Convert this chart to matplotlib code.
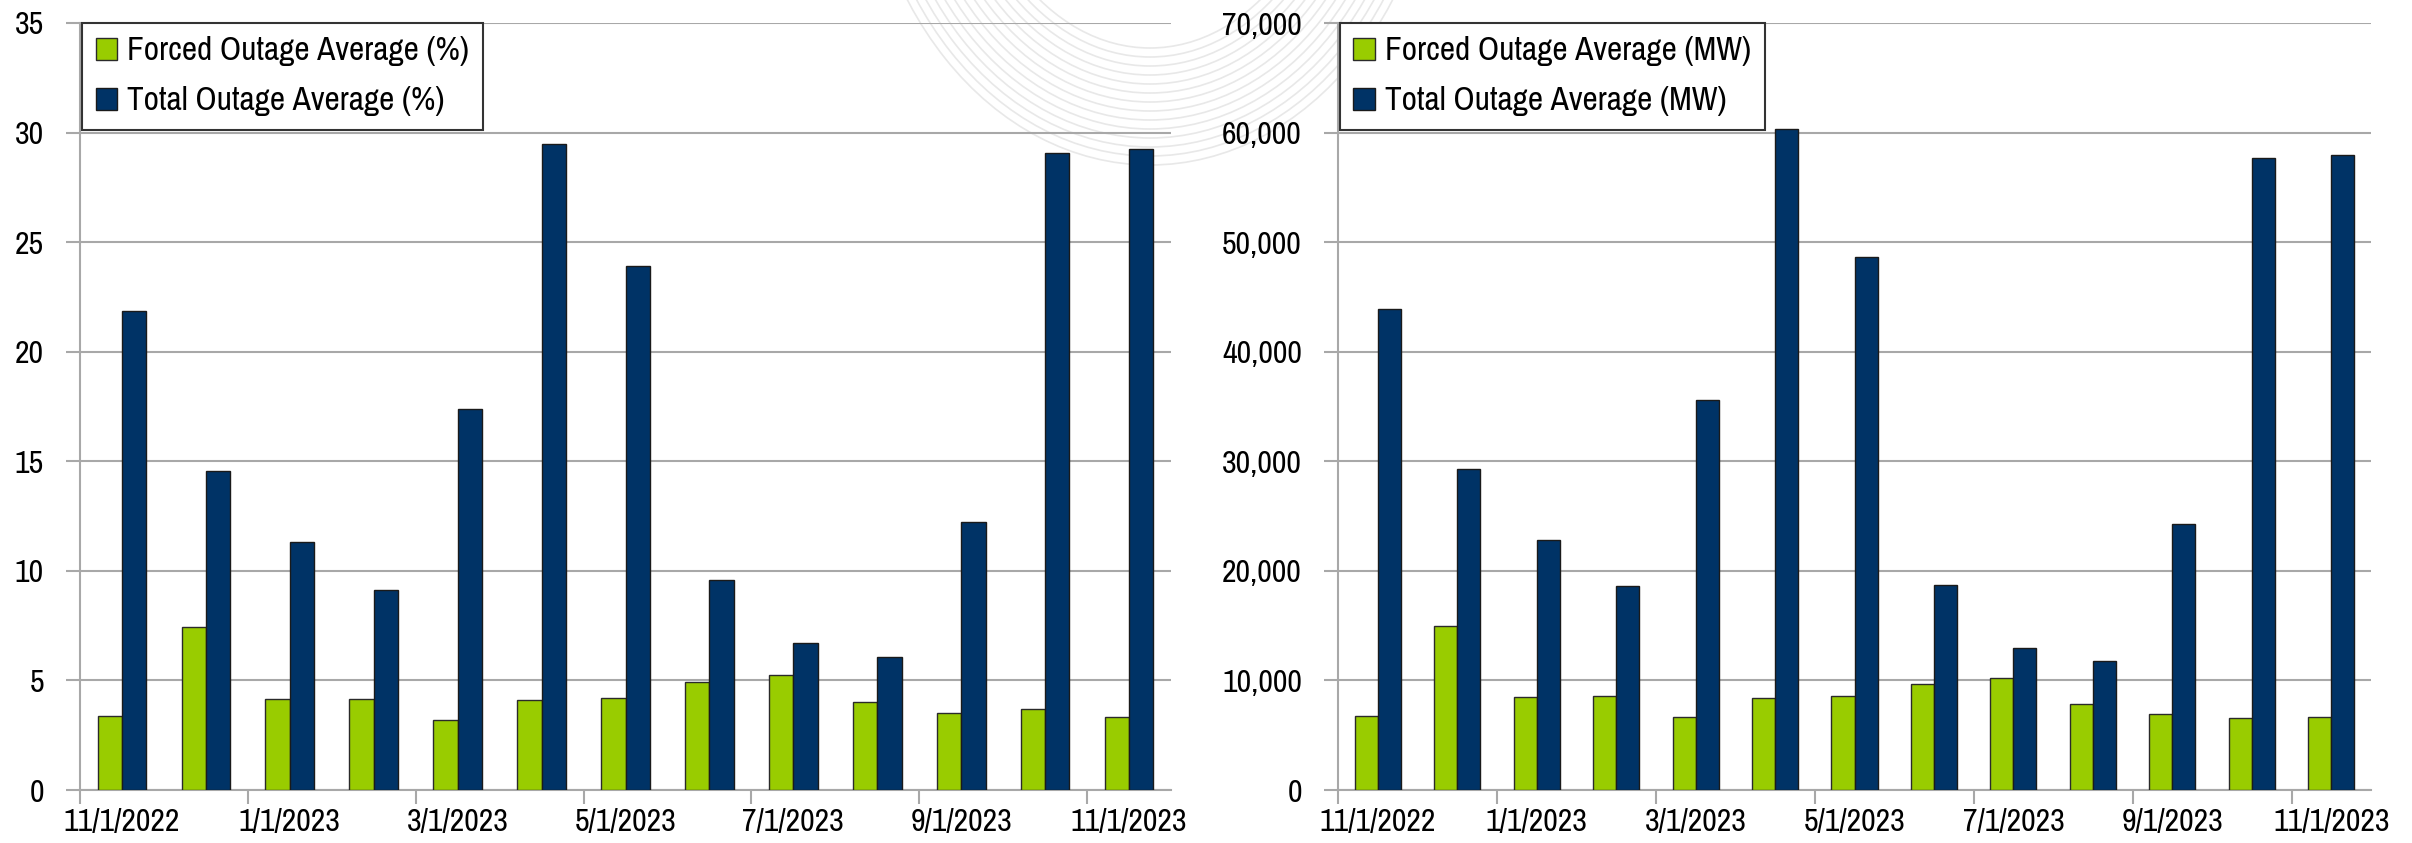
import matplotlib
matplotlib.use("Agg")
import matplotlib.pyplot as plt
from matplotlib.ticker import FuncFormatter
from matplotlib.patches import Ellipse
import numpy as np

# monthly outage averages, 11/2022 - 11/2023
months = ["11/1/2022", "12/1/2022", "1/1/2023", "2/1/2023", "3/1/2023", "4/1/2023",
          "5/1/2023", "6/1/2023", "7/1/2023", "8/1/2023", "9/1/2023", "10/1/2023",
          "11/1/2023"]
forced_pct = [3.36, 7.43, 4.17, 4.17, 3.21, 4.09, 4.22, 4.95, 5.27, 4.0, 3.5, 3.68, 3.33]
total_pct = [21.86, 14.56, 11.32, 9.12, 17.40, 29.46, 23.92, 9.56, 6.69, 6.05, 12.25, 29.07, 29.24]
forced_mw = [6716, 14951, 8480, 8578, 6618, 8382, 8578, 9657, 10245, 7843, 6961, 6569, 6667]
total_mw = [43873, 29314, 22843, 18627, 35588, 60294, 48676, 18725, 12941, 11814, 24265, 57696, 57990]

GREEN = "#99CC00"
NAVY = "#003366"
GRID = "#A8A8A8"
TICK_FS = 23
LEG_FS = 24

plt.rcParams['font.family'] = ['Archivo Narrow', 'Liberation Sans', 'DejaVu Sans']

W, H = 2412, 843
fig = plt.figure(figsize=(W / 100, H / 100), dpi=100)

# faint watermark arcs in the background
bg = fig.add_axes([0, 0, 1, 1], zorder=0)
bg.set_xlim(0, W)
bg.set_ylim(H, 0)
bg.axis("off")
for i in range(14):
    bg.add_patch(Ellipse((1150, -200), 2 * (290 - i * 8), 2 * (365 - i * 9),
                         fill=False, edgecolor="#E8E8E8", linewidth=1.2))


def draw(ax, forced, total, ymax, step, fmt, labels):
    x = np.arange(len(months))
    w = 0.29
    ax.set_facecolor("none")
    ax.bar(x - w / 2, forced, w, color=GREEN, edgecolor="#2a2a2a", linewidth=1,
           label=labels[0], zorder=3)
    ax.bar(x + w / 2, total, w, color=NAVY, edgecolor="#1a1a1a", linewidth=1,
           label=labels[1], zorder=3)
    ax.set_xlim(-0.5, len(months) - 0.5)
    ax.set_ylim(0, ymax)
    ax.set_yticks(np.arange(0, ymax + step, step))
    ax.yaxis.set_major_formatter(FuncFormatter(fmt))
    ax.grid(axis="y", color=GRID, linewidth=1.5, zorder=0)
    ax.set_axisbelow(True)
    # tick marks on category boundaries, labels under every other month
    ax.set_xticks(np.arange(-0.5, len(months), 2))
    ax.set_xticklabels([])
    ax.set_xticks(x[::2], minor=True)
    ax.set_xticklabels([months[i] for i in x[::2]], minor=True)
    ax.tick_params(axis="x", which="major", length=10, color=GRID, width=1.5)
    ax.tick_params(axis="x", which="minor", length=0, pad=13, labelsize=TICK_FS)
    ax.tick_params(axis="y", length=10, color=GRID, width=1.5, pad=16, labelsize=TICK_FS)
    for s in ["top", "right"]:
        ax.spines[s].set_visible(False)
    for s in ["left", "bottom"]:
        ax.spines[s].set_color(GRID)
        ax.spines[s].set_linewidth(1.5)
    leg = ax.legend(loc="upper left", bbox_to_anchor=(0.002, 1.0), borderaxespad=0,
                    fancybox=False, edgecolor="#333333", framealpha=1, fontsize=LEG_FS,
                    handlelength=0.65, handleheight=0.65, handletextpad=0.3,
                    labelspacing=0.6, borderpad=0.4)
    leg.get_frame().set_linewidth(1.5)
    leg.set_zorder(5)


ax1 = fig.add_axes([80 / W, 53 / H, 1091 / W, 767 / H], zorder=1)
draw(ax1, forced_pct, total_pct, 35, 5, lambda v, p: f"{v:.0f}",
     ["Forced Outage Average (%)", "Total Outage Average (%)"])

ax2 = fig.add_axes([1338 / W, 53 / H, 1033 / W, 767 / H], zorder=1)
draw(ax2, forced_mw, total_mw, 70000, 10000, lambda v, p: f"{v:,.0f}",
     ["Forced Outage Average (MW)", "Total Outage Average (MW)"])

fig.savefig("out.png", dpi=100)
